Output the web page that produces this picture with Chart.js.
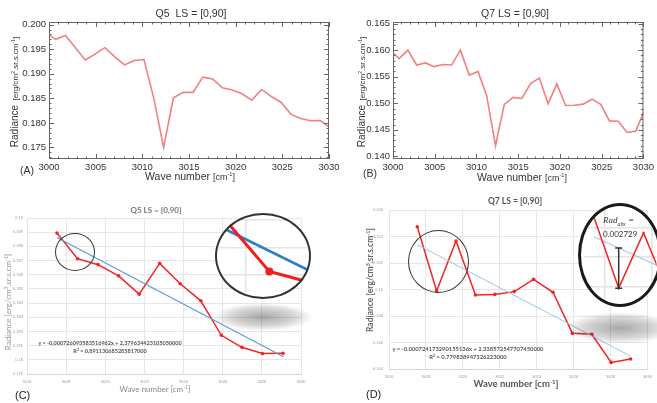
<!doctype html>
<html lang="en">
<head>
<meta charset="utf-8">
<title>Q5 / Q7 LS = [0,90]</title>
<style>
  body { margin:0; width:657px; height:403px; overflow:hidden; background:#fff; position:relative; }
  canvas, .t, .ring, .lens, .shadow { position:absolute; }
  .t { white-space:nowrap; transform:translate(-50%,-50%); line-height:1; }
  .t.l { transform:translate(0,-50%); }
  .t.v { transform:translate(-50%,-50%) rotate(-90deg); }
  sup { font-size:0.62em; vertical-align:0.55em; line-height:0; }
  .idl { font-family:"Liberation Sans", Arial, sans-serif; color:#333; }
  .xl { font-family:Lato, "Open Sans", sans-serif; }
  .ring { border:1.5px solid #333; border-radius:50%; box-sizing:border-box; }
  .lens { border-radius:50%; overflow:hidden; background:#fff; }
  .shadow { background:radial-gradient(ellipse at center, rgba(0,0,0,0.34) 0%, rgba(0,0,0,0.16) 45%, rgba(0,0,0,0) 70%); }
</style>
</head>
<body>

<canvas id="chartA" width="345" height="185" style="left:0;top:0"></canvas>
<canvas id="chartB" width="317" height="185" style="left:340px;top:0"></canvas>
<canvas id="chartC" width="330" height="208" style="left:0;top:195px"></canvas>
<canvas id="chartD" width="327" height="208" style="left:330px;top:195px"></canvas>

<!-- top panels (IDL style) -->
<div class="t idl" style="left:191px;top:13px;font-size:10.5px">Q5&nbsp; LS = [0,90]</div>
<div class="t idl" style="left:515px;top:13px;font-size:10.5px">Q7 LS = [0,90]</div>
<div class="t v idl" style="left:13px;top:92px"><span style="font-size:10px">Radiance</span> <span style="font-size:8px">[erg/cm<sup>2</sup>.sr.s.cm<sup>-1</sup>]</span></div>
<div class="t v idl" style="left:360px;top:92px"><span style="font-size:10px">Radiance</span> <span style="font-size:8px">[erg/cm<sup>2</sup>.sr.s.cm<sup>-1</sup>]</span></div>
<div class="t idl" style="left:190px;top:176px;font-size:10.5px">Wave number <span style="font-size:9px">[cm<sup>-1</sup>]</span></div>
<div class="t idl" style="left:522px;top:177px;font-size:10.5px">Wave number <span style="font-size:9px">[cm<sup>-1</sup>]</span></div>
<div class="t l idl" style="left:20px;top:170px;font-size:10.5px">(A)</div>
<div class="t l idl" style="left:363px;top:173px;font-size:10.5px">(B)</div>

<!-- bottom panels (spreadsheet style) -->
<div class="t xl" style="left:156px;top:210px;font-size:8px;font-weight:700;color:#777">Q5 LS = [0,90]</div>
<div class="t v xl" style="left:8px;top:302px;font-size:8px;color:#999">Radiance [erg/cm<sup>3</sup>.sr.s.cm<sup>-1</sup>]</div>
<div class="t xl" style="left:155px;top:389px;font-size:8px;color:#888">Wave number [cm<sup>-1</sup>]</div>
<div class="t l idl" style="left:15px;top:395px;font-size:11px;color:#222">(C)</div>
<div class="t xl" style="left:110px;top:344px;font-size:5.5px;font-weight:700;color:#555">y = -0,000726093583516962x + 2,379634423105050000</div>
<div class="t xl" style="left:110px;top:352px;font-size:5.5px;font-weight:700;color:#555">R<sup>2</sup> = 0,891130685285817000</div>

<div class="t xl" style="left:515px;top:201px;font-size:8.5px;font-weight:700;color:#555">Q7 LS = [0,90]</div>
<div class="t v xl" style="left:370px;top:280px;font-size:8.5px;font-weight:700;color:#666">Radiance [erg/cm<sup>3</sup>.sr.s.cm<sup>-1</sup>]</div>
<div class="t xl" style="left:516px;top:384px;font-size:9.5px;font-weight:700;color:#555">Wave number [cm<sup>-1</sup>]</div>
<div class="t l idl" style="left:366px;top:394px;font-size:11px;color:#222">(D)</div>
<div class="t xl" style="left:468px;top:349px;font-size:5.8px;font-weight:700;color:#555">y = -0.000724173290155136x + 2.338572547707450000</div>
<div class="t xl" style="left:468px;top:357px;font-size:5.8px;font-weight:700;color:#555">R<sup>2</sup> = 0.779838947326223000</div>

<!-- circles and magnified insets -->
<div class="ring" style="left:55px;top:233px;width:40px;height:38px"></div>
<div class="ring" style="left:408px;top:230px;width:61px;height:63px"></div>
<div class="shadow" style="left:213px;top:303px;width:100px;height:28px"></div>
<div class="shadow" style="left:565px;top:312px;width:110px;height:32px"></div>

<div class="lens" style="left:215px;top:213px;width:96px;height:86px">
  <canvas id="lensC" width="96" height="86" style="left:0;top:0"></canvas>
</div>
<div class="ring" style="left:215px;top:213px;width:96px;height:86px;border:2.5px solid #333"></div>

<div class="lens" style="left:578px;top:203px;width:84px;height:104px">
  <canvas id="lensD" width="84" height="104" style="left:0;top:0"></canvas>
</div>
<div class="ring" style="left:578px;top:203px;width:84px;height:104px;border:3.5px solid #1a1a1a"></div>
<div class="t l" style="left:603px;top:222px;font-family:'Liberation Serif',serif;font-style:italic;font-size:9px;color:#333">Rad<sub style="font-size:0.65em">abs</sub> =</div>
<div class="t l xl" style="left:603px;top:234px;font-size:8px;color:#333">0.002729</div>

<script src="https://cdn.jsdelivr.net/npm/chart.js"></script>
<script>
    // wave numbers of the samples [cm-1]
    const waveNum = [2999.68, 3000.73, 3001.78, 3002.83, 3003.88, 3004.93, 3005.98, 3007.03, 3008.08, 3009.13,
                     3010.18, 3011.23, 3012.28, 3013.33, 3014.38, 3015.43, 3016.48, 3017.53, 3018.58, 3019.63,
                     3020.68, 3021.73, 3022.78, 3023.83, 3024.88, 3025.93, 3026.98, 3028.03, 3029.08, 3030.13];
    // radiance Q5 and Q7 [erg/cm2.sr.s.cm-1]
    const radQ5 = [0.1983, 0.1970, 0.1978, 0.1953, 0.1928, 0.1940, 0.1953, 0.1935, 0.1918, 0.1927,
                   0.1929, 0.1850, 0.1750, 0.1851, 0.1862, 0.1862, 0.1893, 0.18894, 0.18713, 0.18671,
                   0.18592, 0.18463, 0.18680, 0.18536, 0.18416, 0.18173, 0.18088, 0.18044, 0.18046, 0.1790];
    const radQ7 = [0.1600, 0.1584, 0.1600, 0.1572, 0.1576, 0.1569, 0.1573, 0.1572, 0.1600, 0.1553,
                   0.1560, 0.1514, 0.1420, 0.1498, 0.1511, 0.1509, 0.1537, 0.15474, 0.14989, 0.15366,
                   0.14958, 0.14963, 0.14984, 0.15077, 0.14979, 0.14669, 0.14662, 0.14450, 0.14475, 0.1487];
    // zoomed panels use samples 17..28
    const zoomFrom = 17, zoomTo = 29;
    // linear fit end points
    const fitX = [3017.53, 3029.08];
    const fitQ5 = [0.18863, 0.18024];
    const fitQ7 = [0.15339, 0.14497];
    // Rad_abs bar
    const radAbsX = [3018.58, 3018.58];
    const radAbsY = [0.14989, 0.15262];

    const idlTicksX = [3000, 3005, 3010, 3015, 3020, 3025, 3030];
    const q5TicksY = [0.175, 0.180, 0.185, 0.190, 0.195, 0.200];
    const q7TicksY = [0.140, 0.145, 0.150, 0.155, 0.160, 0.165];
    const xlTicksX = [3016, 3018, 3020, 3022, 3024, 3026, 3028, 3030];
    const q5ZoomTicksY = [0.179, 0.180, 0.181, 0.182, 0.183, 0.184, 0.185, 0.186, 0.187, 0.188, 0.189, 0.190];
    const q7ZoomTicksY = [0.144, 0.146, 0.148, 0.150, 0.152, 0.154, 0.156];

    const pts = (xs, ys) => xs.map((x, i) => ({ x: x, y: ys[i] }));
    const setTicks = list => s => { s.ticks = list.filter(v => v >= s.min - 1e-9 && v <= s.max + 1e-9).map(v => ({ value: v })); };

    Chart.defaults.font.family = '"Liberation Sans", Arial, sans-serif';

    // box with inward ticks on all four sides
    const idlFrame = {
        id: 'idlFrame',
        afterDatasetsDraw(chart) {
            const ctx = chart.ctx, a = chart.chartArea, x = chart.scales.x, y = chart.scales.y;
            ctx.save();
            ctx.strokeStyle = '#666';
            ctx.lineWidth = 1;
            ctx.strokeRect(a.left + 0.5, a.top + 0.5, a.right - a.left - 1, a.bottom - a.top - 1);
            ctx.beginPath();
            for (let v = Math.ceil(x.min); v <= x.max; v++) {
                const px = Math.round(x.getPixelForValue(v)) + 0.5;
                const L = v % 5 === 0 ? 5 : 2.5;
                ctx.moveTo(px, a.bottom); ctx.lineTo(px, a.bottom - L);
                ctx.moveTo(px, a.top); ctx.lineTo(px, a.top + L);
            }
            for (let k = Math.ceil(y.min * 1000); k <= Math.floor(y.max * 1000); k++) {
                const py = Math.round(y.getPixelForValue(k / 1000)) + 0.5;
                const L = k % 5 === 0 ? 5 : 2.5;
                ctx.moveTo(a.left, py); ctx.lineTo(a.left + L, py);
                ctx.moveTo(a.right, py); ctx.lineTo(a.right - L, py);
            }
            ctx.stroke();
            ctx.restore();
        }
    };

    function idlChart(id, ys, yMin, yMax, yTicks, yWidth, padRight) {
        return new Chart(document.getElementById(id), {
            type: 'line',
            data: { datasets: [{ data: pts(waveNum, ys), borderColor: '#f47f7f', borderWidth: 1.6, pointRadius: 0 }] },
            options: {
                responsive: false, animation: false,
                layout: { padding: { top: 22, right: padRight, left: 0, bottom: 0 } },
                plugins: { legend: { display: false }, tooltip: { enabled: false } },
                scales: {
                    x: {
                        type: 'linear', min: 3000, max: 3030,
                        grid: { display: false, drawTicks: false }, border: { display: false },
                        afterBuildTicks: setTicks(idlTicksX),
                        afterFit: s => { s.height = 26; },
                        ticks: { callback: v => String(v), color: '#333', font: { size: 9.5 }, padding: 3, maxRotation: 0, autoSkip: false }
                    },
                    y: {
                        min: yMin, max: yMax,
                        grid: { display: false, drawTicks: false }, border: { display: false },
                        afterBuildTicks: setTicks(yTicks),
                        afterFit: s => { s.width = yWidth; },
                        ticks: { callback: v => v.toFixed(3), color: '#333', font: { size: 9.5 }, padding: 3, autoSkip: false }
                    }
                }
            },
            plugins: [idlFrame]
        });
    }

    function xlChart(id, ys, fitYs, yMin, yMax, yTicks, box, fitColor, fitWidth) {
        return new Chart(document.getElementById(id), {
            type: 'line',
            data: {
                datasets: [
                    { data: pts(fitX, fitYs), borderColor: fitColor, borderWidth: fitWidth, pointRadius: 0 },
                    { data: pts(waveNum.slice(zoomFrom, zoomTo), ys.slice(zoomFrom, zoomTo)), borderColor: '#f42323', borderWidth: 1.5,
                      pointRadius: 1.8, pointBackgroundColor: '#f42323', pointBorderWidth: 0 }
                ]
            },
            options: {
                responsive: false, animation: false,
                layout: { padding: { top: box.top, right: box.right, left: 0, bottom: 0 } },
                plugins: { legend: { display: false }, tooltip: { enabled: false } },
                scales: {
                    x: {
                        type: 'linear', min: 3016, max: 3030,
                        grid: { color: '#e6e6e6', drawTicks: false }, border: { color: '#d6d6d6' },
                        afterBuildTicks: setTicks(xlTicksX),
                        afterFit: s => { s.height = box.xHeight; },
                        ticks: { callback: v => String(v), color: '#999', font: { size: 4 }, padding: box.xPad, maxRotation: 0, autoSkip: false }
                    },
                    y: {
                        min: yMin, max: yMax,
                        grid: { color: '#e6e6e6', drawTicks: false }, border: { display: false },
                        afterBuildTicks: setTicks(yTicks),
                        afterFit: s => { s.width = box.yWidth; },
                        ticks: { callback: v => String(parseFloat(v.toFixed(3))), color: '#999', font: { size: 4 }, padding: box.yPad, autoSkip: false }
                    }
                }
            }
        });
    }

    function lensChart(id, datasets, xr, yr, xTicks, yTicks) {
        return new Chart(document.getElementById(id), {
            type: 'line',
            data: { datasets: datasets },
            options: {
                responsive: false, animation: false,
                layout: { padding: 0 },
                plugins: { legend: { display: false }, tooltip: { enabled: false } },
                scales: {
                    x: { type: 'linear', min: xr[0], max: xr[1], grid: { color: '#e4e4e4', lineWidth: 1.5, drawTicks: false },
                         border: { display: false }, ticks: { display: false }, afterBuildTicks: setTicks(xTicks), afterFit: s => { s.height = 0; } },
                    y: { min: yr[0], max: yr[1], grid: { color: '#e4e4e4', lineWidth: 1.5, drawTicks: false },
                         border: { display: false }, ticks: { display: false }, afterBuildTicks: setTicks(yTicks), afterFit: s => { s.width = 0; } }
                }
            }
        });
    }

    idlChart('chartA', radQ5, 0.17265, 0.20053, q5TicksY, 49, 16);
    idlChart('chartB', radQ7, 0.13951, 0.1653, q7TicksY, 53, 6);

    xlChart('chartC', radQ5, fitQ5, 0.179, 0.190, q5ZoomTicksY,
            { top: 23, right: 29, xHeight: 29, yWidth: 27, xPad: 5, yPad: 4 }, '#5b9bd5', 1.2);
    xlChart('chartD', radQ7, fitQ7, 0.144, 0.156, q7ZoomTicksY,
            { top: 15, right: 5, xHeight: 34, yWidth: 59, xPad: 5, yPad: 6 }, '#9dc3e6', 1);

    // magnified views
    lensChart('lensC', [
        { data: pts(waveNum.slice(zoomFrom, zoomTo), radQ5.slice(zoomFrom, zoomTo)), borderColor: '#f41c1c', borderWidth: 3,
          pointRadius: 4, pointBackgroundColor: '#f41c1c', pointBorderWidth: 0 },
        { data: pts(fitX, fitQ5), borderColor: '#2f7fc8', borderWidth: 2.8, pointRadius: 0 }
    ], [3017.35, 3019.50], [0.18628, 0.18909], xlTicksX, q5ZoomTicksY);

    lensChart('lensD', [
        { data: pts(radAbsX, radAbsY), borderColor: '#333', borderWidth: 1.5, pointStyle: 'line', pointRadius: 3.5,
          pointBorderColor: '#333', pointBorderWidth: 1.5 },
        { data: pts(waveNum.slice(zoomFrom, zoomTo), radQ7.slice(zoomFrom, zoomTo)), borderColor: '#f42323', borderWidth: 1.5,
          pointRadius: 1.2, pointBackgroundColor: '#f42323', pointBorderWidth: 0 },
        { data: pts(fitX, fitQ7), borderColor: '#a7c8e8', borderWidth: 1.2, pointRadius: 0 }
    ], [3017.09, 3020.18], [0.14898, 0.15532], xlTicksX, q7ZoomTicksY);
</script>
</body>
</html>
